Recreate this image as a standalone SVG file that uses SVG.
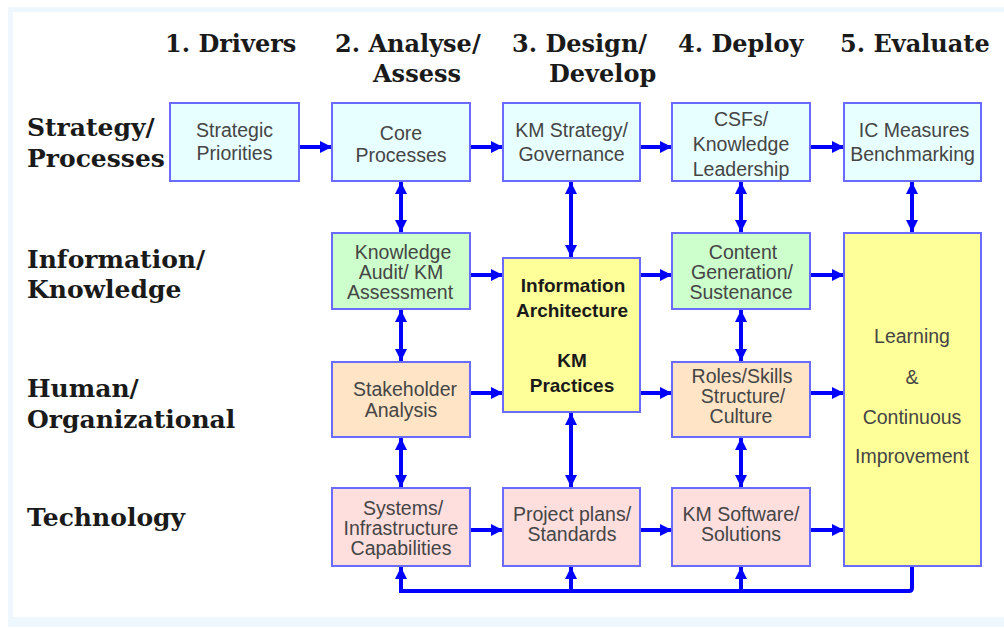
<svg xmlns="http://www.w3.org/2000/svg" width="1004" height="628" viewBox="0 0 1004 628">
  <style>
    .hdr { font-family: "DejaVu Serif", "Liberation Serif", serif; font-weight: bold; font-size: 24px; fill: #1a1a1a; }
    .row { font-family: "DejaVu Serif", "Liberation Serif", serif; font-weight: bold; font-size: 25px; fill: #1a1a1a; }
    .lbl { font-family: "Liberation Sans", Arial, sans-serif; font-size: 19.5px; fill: #454545; text-anchor: middle; }
    .bold { font-family: "Liberation Sans", Arial, sans-serif; font-size: 19px; font-weight: bold; fill: #1a1a1a; text-anchor: middle; }
    .box { stroke: #6a6aff; stroke-width: 2; }
    .strat { fill: #e8ffff; }
    .info { fill: #ccffcc; }
    .human { fill: #ffe4c6; }
    .tech { fill: #ffdede; }
    .core { fill: #ffff99; }
    .conn { stroke: #0000ff; stroke-width: 4; fill: none; }
  </style>
  <defs>
    <marker id="head" viewBox="0 0 12 12" refX="12" refY="6" markerWidth="12" markerHeight="12" markerUnits="userSpaceOnUse" orient="auto-start-reverse">
      <path d="M0,0 L12,6 L0,12 Z" fill="#0000ff"/>
    </marker>
  </defs>

  <!-- page frame -->
  <rect x="0" y="0" width="1004" height="628" fill="#ffffff"/>
  <rect x="8" y="7" width="996" height="620" fill="#eef6fe"/>
  <rect x="13" y="12" width="991" height="605" fill="#ffffff"/>

  <!-- column headings -->
  <g id="headings">
    <text class="hdr" x="165" y="52">1. Drivers</text>
    <text class="hdr" x="335" y="52">2. Analyse/</text>
    <text class="hdr" x="373" y="82">Assess</text>
    <text class="hdr" x="512" y="52">3. Design/</text>
    <text class="hdr" x="549" y="82">Develop</text>
    <text class="hdr" x="678" y="52">4. Deploy</text>
    <text class="hdr" x="840" y="52">5. Evaluate</text>
  </g>

  <!-- row headings -->
  <g id="rows">
    <text class="row" x="27" y="136">Strategy/</text>
    <text class="row" x="27" y="167">Processes</text>
    <text class="row" x="27" y="268">Information/</text>
    <text class="row" x="27" y="298">Knowledge</text>
    <text class="row" x="27" y="397">Human/</text>
    <text class="row" x="27" y="428">Organizational</text>
    <text class="row" x="27" y="526">Technology</text>
  </g>

  <!-- connectors -->
  <g id="connectors">
    <!-- strategy row -->
    <line class="conn" x1="299" y1="147" x2="332" y2="147" marker-end="url(#head)"/>
    <line class="conn" x1="470" y1="147" x2="503" y2="147" marker-end="url(#head)"/>
    <line class="conn" x1="640" y1="147" x2="672" y2="147" marker-end="url(#head)"/>
    <line class="conn" x1="810" y1="147" x2="844" y2="147" marker-end="url(#head)"/>
    <!-- information row -->
    <line class="conn" x1="470" y1="275" x2="503" y2="275" marker-end="url(#head)"/>
    <line class="conn" x1="640" y1="275" x2="672" y2="275" marker-end="url(#head)"/>
    <line class="conn" x1="810" y1="275" x2="844" y2="275" marker-end="url(#head)"/>
    <!-- human row -->
    <line class="conn" x1="470" y1="393" x2="503" y2="393" marker-end="url(#head)"/>
    <line class="conn" x1="640" y1="393" x2="672" y2="393" marker-end="url(#head)"/>
    <line class="conn" x1="810" y1="393" x2="844" y2="393" marker-end="url(#head)"/>
    <!-- technology row -->
    <line class="conn" x1="470" y1="530" x2="503" y2="530" marker-end="url(#head)"/>
    <line class="conn" x1="640" y1="530" x2="672" y2="530" marker-end="url(#head)"/>
    <line class="conn" x1="810" y1="530" x2="844" y2="530" marker-end="url(#head)"/>
    <!-- vertical two-way links -->
    <line class="conn" x1="401" y1="182" x2="401" y2="232" marker-start="url(#head)" marker-end="url(#head)"/>
    <line class="conn" x1="401" y1="310" x2="401" y2="361" marker-start="url(#head)" marker-end="url(#head)"/>
    <line class="conn" x1="401" y1="438" x2="401" y2="487" marker-start="url(#head)" marker-end="url(#head)"/>
    <line class="conn" x1="571" y1="182" x2="571" y2="257" marker-start="url(#head)" marker-end="url(#head)"/>
    <line class="conn" x1="571" y1="413" x2="571" y2="487" marker-start="url(#head)" marker-end="url(#head)"/>
    <line class="conn" x1="741" y1="182" x2="741" y2="232" marker-start="url(#head)" marker-end="url(#head)"/>
    <line class="conn" x1="741" y1="310" x2="741" y2="361" marker-start="url(#head)" marker-end="url(#head)"/>
    <line class="conn" x1="741" y1="438" x2="741" y2="487" marker-start="url(#head)" marker-end="url(#head)"/>
    <line class="conn" x1="912" y1="182" x2="912" y2="232" marker-start="url(#head)" marker-end="url(#head)"/>
    <!-- feedback loop along the bottom -->
    <path class="conn" d="M912,567 V588 Q912,591 909,591 H401 V567" marker-end="url(#head)"/>
    <line class="conn" x1="571" y1="591" x2="571" y2="567" marker-end="url(#head)"/>
    <line class="conn" x1="741" y1="591" x2="741" y2="567" marker-end="url(#head)"/>
  </g>

  <!-- strategy / processes row -->
  <g id="strategic-priorities">
    <rect class="box strat" x="170" y="103" width="129" height="78"/>
    <text class="lbl" x="234.5" y="137">Strategic</text>
    <text class="lbl" x="234.5" y="160">Priorities</text>
  </g>
  <g id="core-processes">
    <rect class="box strat" x="332" y="103" width="138" height="78"/>
    <text class="lbl" x="401" y="140">Core</text>
    <text class="lbl" x="401" y="162">Processes</text>
  </g>
  <g id="km-strategy">
    <rect class="box strat" x="503" y="103" width="137" height="78"/>
    <text class="lbl" x="571.5" y="137">KM Strategy/</text>
    <text class="lbl" x="571.5" y="161">Governance</text>
  </g>
  <g id="csfs">
    <rect class="box strat" x="672" y="103" width="138" height="78"/>
    <text class="lbl" x="741" y="126">CSFs/</text>
    <text class="lbl" x="741" y="151">Knowledge</text>
    <text class="lbl" x="741" y="176">Leadership</text>
  </g>
  <g id="ic-measures">
    <rect class="box strat" x="844" y="103" width="137" height="78"/>
    <text class="lbl" x="914" y="137">IC Measures</text>
    <text class="lbl" x="912.5" y="161">Benchmarking</text>
  </g>

  <!-- information / knowledge row -->
  <g id="knowledge-audit">
    <rect class="box info" x="332" y="233" width="138" height="76"/>
    <text class="lbl" x="403" y="259">Knowledge</text>
    <text class="lbl" x="401" y="279">Audit/ KM</text>
    <text class="lbl" x="400" y="299">Assessment</text>
  </g>
  <g id="content-generation">
    <rect class="box info" x="672" y="233" width="138" height="76"/>
    <text class="lbl" x="743" y="259">Content</text>
    <text class="lbl" x="742" y="279">Generation/</text>
    <text class="lbl" x="741" y="299">Sustenance</text>
  </g>

  <!-- central design block -->
  <g id="information-architecture">
    <rect class="box core" x="503" y="258" width="137" height="154"/>
    <text class="bold" x="573" y="292">Information</text>
    <text class="bold" x="572" y="317">Architecture</text>
    <text class="bold" x="572" y="367">KM</text>
    <text class="bold" x="572" y="392">Practices</text>
  </g>

  <!-- human / organizational row -->
  <g id="stakeholder-analysis">
    <rect class="box human" x="332" y="362" width="138" height="75"/>
    <text class="lbl" x="405" y="396">Stakeholder</text>
    <text class="lbl" x="401" y="417">Analysis</text>
  </g>
  <g id="roles-skills">
    <rect class="box human" x="672" y="362" width="138" height="75"/>
    <text class="lbl" x="742" y="383">Roles/Skills</text>
    <text class="lbl" x="743" y="403">Structure/</text>
    <text class="lbl" x="741" y="423">Culture</text>
  </g>

  <!-- technology row -->
  <g id="systems-infrastructure">
    <rect class="box tech" x="332" y="488" width="138" height="78"/>
    <text class="lbl" x="403" y="515">Systems/</text>
    <text class="lbl" x="401" y="535">Infrastructure</text>
    <text class="lbl" x="401" y="555">Capabilities</text>
  </g>
  <g id="project-plans">
    <rect class="box tech" x="503" y="488" width="137" height="78"/>
    <text class="lbl" x="572" y="521">Project plans/</text>
    <text class="lbl" x="572" y="541">Standards</text>
  </g>
  <g id="km-software">
    <rect class="box tech" x="672" y="488" width="138" height="78"/>
    <text class="lbl" x="741" y="521">KM Software/</text>
    <text class="lbl" x="741" y="541">Solutions</text>
  </g>

  <!-- evaluation column block -->
  <g id="learning">
    <rect class="box core" x="844" y="233" width="137" height="333"/>
    <text class="lbl" x="912" y="343">Learning</text>
    <text class="lbl" x="912" y="384">&amp;</text>
    <text class="lbl" x="912" y="424">Continuous</text>
    <text class="lbl" x="912" y="463">Improvement</text>
  </g>
</svg>
